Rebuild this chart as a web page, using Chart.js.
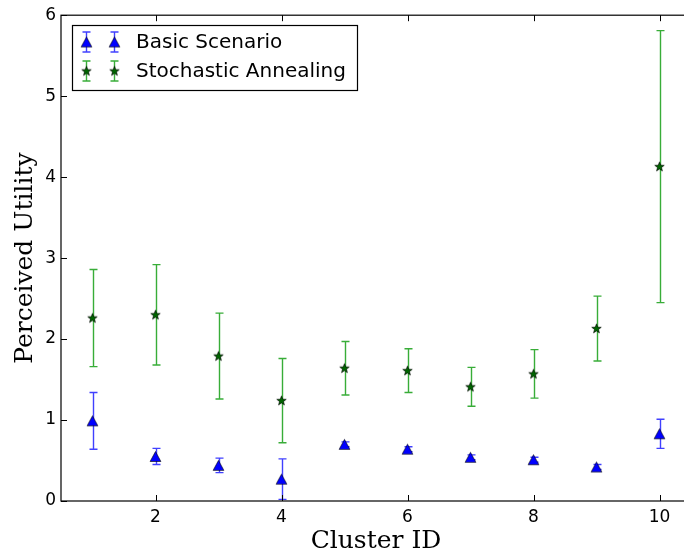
<!DOCTYPE html>
<html>
<head>
<meta charset="utf-8">
<script src="https://cdn.jsdelivr.net/npm/chart.js@4/dist/chart.umd.min.js"></script>
<style>
    body { margin: 0; overflow: hidden; background: #fff; }
    #wrap { width: 700px; height: 556px; }
</style>
</head>
<body>
<div id="wrap"><canvas id="chart" width="700" height="556"></canvas></div>
<script>
// Values
const clusterIds = [1, 2, 3, 4, 5, 6, 7, 8, 9, 10];
const basicMean = [0.99, 0.55, 0.44, 0.27, 0.70, 0.64, 0.54, 0.51, 0.42, 0.83];
const basicErr = [0.35, 0.10, 0.09, 0.25, 0.03, 0.03, 0.03, 0.03, 0.03, 0.18];
const annealMean = [2.26, 2.30, 1.79, 1.24, 1.64, 1.61, 1.41, 1.57, 2.13, 4.13];
const annealErr = [0.60, 0.62, 0.53, 0.52, 0.33, 0.27, 0.24, 0.30, 0.40, 1.68];
const xTicks = [2, 4, 6, 8, 10];
const yTicks = [0, 1, 2, 3, 4, 5, 6];
const seriesLabels = ['Basic Scenario', 'Stochastic Annealing'];

const tickFont = { family: 'DejaVu Sans', size: 17 };
const titleFont = { family: 'DejaVu Serif', size: 25 };

// small canvases used as point styles (matplotlib-like markers)
function makeMarker(kind) {
    const c = document.createElement('canvas');
    c.width = 13;
    c.height = 13;
    const g = c.getContext('2d');
    g.beginPath();
    if (kind === 'triangle') {
        g.moveTo(6.5, 1.5);
        g.lineTo(11.9, 11.5);
        g.lineTo(1.1, 11.5);
        g.closePath();
        g.fillStyle = '#0000ff';
    } else {
        for (let i = 0; i < 10; i++) {
            const r = i % 2 === 0 ? 5 : 2.1;
            const a = -Math.PI / 2 + i * Math.PI / 5;
            const px = 6.5 + r * Math.cos(a);
            const py = 6.8 + r * Math.sin(a);
            if (i === 0) g.moveTo(px, py); else g.lineTo(px, py);
        }
        g.closePath();
        g.fillStyle = '#006400';
    }
    g.fill();
    g.lineWidth = 0.6;
    g.strokeStyle = '#000';
    g.stroke();
    return c;
}

const triMarker = makeMarker('triangle');
const starMarker = makeMarker('star');

function toPoints(means) {
    return clusterIds.map((id, i) => ({ x: id, y: means[i] }));
}

// vertical error bars with caps, drawn under the markers
const errorBarPlugin = {
    id: 'errorBars',
    beforeDatasetsDraw(chart) {
        const ctx = chart.ctx;
        const xs = chart.scales.x;
        const ys = chart.scales.y;
        ctx.save();
        chart.data.datasets.forEach(ds => {
            ctx.strokeStyle = ds.errorColor;
            ctx.lineWidth = 1.4;
            ds.data.forEach((p, i) => {
                const err = ds.errors[i];
                const px = Math.round(xs.getPixelForValue(p.x)) + 0.5;
                const top = ys.getPixelForValue(p.y + err);
                const bot = ys.getPixelForValue(p.y - err);
                ctx.beginPath();
                ctx.moveTo(px, top);
                ctx.lineTo(px, bot);
                ctx.moveTo(px - 4, top);
                ctx.lineTo(px + 4, top);
                ctx.moveTo(px - 4, bot);
                ctx.lineTo(px + 4, bot);
                ctx.stroke();
            });
        });
        ctx.restore();
    }
};

// box around the plot with inward ticks on all four sides, plus the legend
const framePlugin = {
    id: 'frame',
    afterDraw(chart) {
        const ctx = chart.ctx;
        const a = chart.chartArea;
        const xs = chart.scales.x;
        const ys = chart.scales.y;
        ctx.save();
        ctx.strokeStyle = '#000';
        ctx.lineWidth = 1.2;
        ctx.strokeRect(a.left, a.top, a.right - a.left, a.bottom - a.top);
        ctx.lineWidth = 1;
        ctx.beginPath();
        xs.ticks.forEach(t => {
            const px = Math.round(xs.getPixelForValue(t.value)) + 0.5;
            ctx.moveTo(px, a.bottom);
            ctx.lineTo(px, a.bottom - 6);
            ctx.moveTo(px, a.top);
            ctx.lineTo(px, a.top + 6);
        });
        ys.ticks.forEach(t => {
            const py = Math.round(ys.getPixelForValue(t.value)) + 0.5;
            ctx.moveTo(a.left, py);
            ctx.lineTo(a.left + 6, py);
            ctx.moveTo(a.right, py);
            ctx.lineTo(a.right - 7, py);
        });
        ctx.stroke();

        // legend
        const lx = 72, ly = 25, lw = 285, lh = 65;
        ctx.fillStyle = '#fff';
        ctx.fillRect(lx, ly, lw, lh);
        ctx.strokeStyle = '#000';
        ctx.lineWidth = 1.2;
        ctx.strokeRect(lx + 0.5, ly + 0.5, lw, lh);
        ctx.font = '20px "DejaVu Sans"';
        ctx.textBaseline = 'middle';
        chart.data.datasets.forEach((ds, i) => {
            const cy = 42 + i * 29;
            [86, 114].forEach(mx => {
                ctx.strokeStyle = ds.errorColor;
                ctx.lineWidth = 1.4;
                ctx.beginPath();
                ctx.moveTo(mx + 0.5, cy - 10);
                ctx.lineTo(mx + 0.5, cy + 10);
                ctx.moveTo(mx - 3.5, cy - 10);
                ctx.lineTo(mx + 4.5, cy - 10);
                ctx.moveTo(mx - 3.5, cy + 10);
                ctx.lineTo(mx + 4.5, cy + 10);
                ctx.stroke();
                const img = ds.pointStyle;
                ctx.drawImage(img, mx + 0.5 - img.width / 2, cy - img.height / 2);
            });
            ctx.fillStyle = '#000';
            ctx.fillText(ds.label, 136, cy + 1);
        });
        ctx.restore();
    }
};

const chart = new Chart(document.getElementById('chart'), {
    type: 'scatter',
    data: {
        datasets: [{
            label: seriesLabels[0],
            data: toPoints(basicMean),
            errors: basicErr,
            errorColor: 'rgba(0,0,255,0.75)',
            pointStyle: triMarker,
            showLine: false
        }, {
            label: seriesLabels[1],
            data: toPoints(annealMean),
            errors: annealErr,
            errorColor: 'rgba(0,150,0,0.78)',
            pointStyle: starMarker,
            showLine: false
        }]
    },
    options: {
        responsive: false,
        animation: false,
        layout: { padding: { top: 15, right: 9, left: 0, bottom: 0 } },
        plugins: {
            legend: { display: false },
            tooltip: { enabled: false }
        },
        scales: {
            x: {
                type: 'linear',
                min: 0.5,
                max: 10.5,
                grid: { display: false, drawTicks: false },
                border: { display: false },
                afterBuildTicks: s => { s.ticks = xTicks.map(v => ({ value: v })); },
                afterFit: s => { s.height = 55; },
                ticks: { color: '#000', font: tickFont, padding: 6, maxRotation: 0 },
                title: { display: true, text: 'Cluster ID', color: '#000', font: titleFont, padding: { top: 0, bottom: 0 } }
            },
            y: {
                min: 0,
                max: 6,
                grid: { display: false, drawTicks: false },
                border: { display: false },
                afterBuildTicks: s => { s.ticks = yTicks.map(v => ({ value: v })); },
                afterFit: s => { s.width = 61; },
                ticks: { color: '#000', font: tickFont, padding: 5 },
                title: { display: true, text: 'Perceived Utility', color: '#000', font: titleFont, padding: { top: 10, bottom: 0 } }
            }
        }
    },
    plugins: [errorBarPlugin, framePlugin]
});
</script>
</body>
</html>
